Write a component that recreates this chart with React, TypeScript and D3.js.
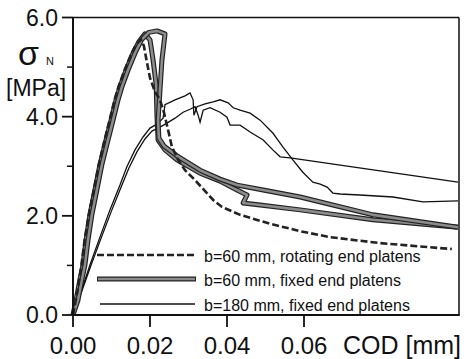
import React from "react";
import * as d3 from "d3";

// ---- data (COD [mm], sigma_N [MPa]) ----
const rotatingB60: [number, number][] = [
  [0, 0], [0.0012, 0.5], [0.0022, 1.01], [0.003, 1.51], [0.0041, 2.02], [0.0054, 2.52],
  [0.0067, 3.03], [0.0082, 3.53], [0.0095, 3.93], [0.0108, 4.34], [0.0118, 4.6], [0.0134, 4.94],
  [0.015, 5.24], [0.0165, 5.47], [0.0177, 5.55], [0.0184, 5.43], [0.0192, 5.1], [0.02, 4.78],
  [0.0213, 4.5], [0.0226, 4.34], [0.0236, 4.09], [0.0247, 3.73], [0.0257, 3.39], [0.0273, 3.13],
  [0.0291, 2.92], [0.0317, 2.72], [0.0343, 2.5], [0.0364, 2.32], [0.0387, 2.18], [0.0434, 2.02],
  [0.0512, 1.84], [0.059, 1.69], [0.0668, 1.57], [0.0797, 1.45], [0.0984, 1.33],
];

const fixedB60a: [number, number][] = [
  [0, 0], [0.0008, 0.3], [0.0018, 0.71], [0.0026, 1.01], [0.0034, 1.51], [0.0044, 2.02],
  [0.0057, 2.52], [0.007, 3.03], [0.0086, 3.53], [0.0099, 3.93], [0.0112, 4.34], [0.0122, 4.6],
  [0.0138, 4.94], [0.0156, 5.28], [0.0171, 5.51], [0.0187, 5.67], [0.02, 5.55], [0.0208, 5.14],
  [0.0216, 4.64], [0.0218, 4.03], [0.0221, 3.53], [0.0239, 3.33], [0.027, 3.13], [0.033, 2.86],
  [0.0382, 2.7], [0.0416, 2.56], [0.0452, 2.42], [0.0442, 2.26], [0.0486, 2.22], [0.059, 2.12],
  [0.0779, 1.92], [0.1, 1.77],
];

const fixedB60b: [number, number][] = [
  [0, 0], [0.0013, 0.3], [0.0023, 0.71], [0.0031, 1.01], [0.0039, 1.51], [0.0049, 2.02],
  [0.0062, 2.52], [0.0075, 3.03], [0.0091, 3.53], [0.0104, 3.93], [0.0117, 4.34], [0.0127, 4.6],
  [0.0143, 4.94], [0.0161, 5.28], [0.0178, 5.55], [0.0197, 5.7], [0.0218, 5.73], [0.0239, 5.67],
  [0.0231, 5.14], [0.0226, 4.54], [0.0221, 3.93], [0.0223, 3.57], [0.0236, 3.41], [0.027, 3.21],
  [0.033, 2.92], [0.0382, 2.74], [0.0426, 2.62], [0.0494, 2.52], [0.059, 2.38], [0.0779, 2.02],
  [0.1, 1.77],
];

const fixedB180a: [number, number][] = [
  [0.0003, 0], [0.0018, 0.4], [0.0044, 1.01], [0.007, 1.57], [0.0096, 2.12], [0.0122, 2.62],
  [0.014, 2.99], [0.0161, 3.33], [0.0182, 3.59], [0.02, 3.77], [0.0218, 3.85], [0.0234, 3.97],
  [0.0239, 4.24], [0.0265, 4.34], [0.0291, 4.42], [0.0304, 4.48], [0.0312, 4.34], [0.0314, 4.03],
  [0.0322, 4.2], [0.0343, 4.26], [0.0364, 4.3], [0.0382, 4.34], [0.0403, 4.28], [0.0416, 4.18],
  [0.0434, 4.13], [0.046, 4.07], [0.0486, 3.93], [0.0519, 3.67], [0.0545, 3.39], [0.0571, 3.13],
  [0.0597, 2.88], [0.0623, 2.68], [0.0642, 2.64], [0.066, 2.58], [0.0675, 2.46], [0.0694, 2.44],
  [0.0745, 2.42], [0.0831, 2.38], [0.0909, 2.28], [0.1, 2.3],
];

const fixedB180b: [number, number][] = [
  [0, 0], [0.0021, 0.44], [0.0047, 1.01], [0.0073, 1.55], [0.0099, 2.08], [0.0125, 2.58],
  [0.0145, 2.96], [0.0166, 3.29], [0.0187, 3.55], [0.0205, 3.71], [0.0226, 3.79], [0.0244, 3.87],
  [0.0265, 3.97], [0.0286, 4.09], [0.0304, 4.15], [0.0317, 4.2], [0.0325, 4.03], [0.033, 3.89],
  [0.0338, 4.13], [0.0356, 4.18], [0.0382, 4.09], [0.04, 3.99], [0.0408, 3.83], [0.0434, 3.83],
  [0.046, 3.69], [0.0494, 3.53], [0.0519, 3.33], [0.0538, 3.19], [0.0564, 3.17], [0.1, 2.68],
];

const xTicks = [0, 0.02, 0.04, 0.06];
const xTickLabels = ["0.00", "0.02", "0.04", "0.06"];
const yMajor = [0, 2, 4, 6];
const yMajorLabels = ["0.0", "2.0", "4.0", "6.0"];
const yMinor = [1, 3, 5];
const legendLabels = [
  "b=60 mm, rotating end platens",
  "b=60 mm, fixed end platens",
  "b=180 mm, fixed end platens",
];

const FONT = "Arial, 'Liberation Sans', Helvetica, sans-serif";

export default function App() {
  const L = 73, R = 459, T = 17.5, B = 315;
  const x = d3.scaleLinear().domain([0, 0.1]).range([L, 458]);
  const y = d3.scaleLinear().domain([0, 6]).range([B, T]);
  const line = d3.line<[number, number]>().x((d) => x(d[0])).y((d) => y(d[1]));

  const outline = (data: [number, number][], key: string) => (
    <path key={key} d={line(data) || ""} fill="none" stroke="#222" strokeWidth={5} strokeLinejoin="round" />
  );
  const inner = (data: [number, number][], key: string) => (
    <path key={key} d={line(data) || ""} fill="none" stroke="#8c8c8c" strokeWidth={2.6} strokeLinejoin="round" />
  );

  const legY = [255, 279, 304];
  const legX1 = 97, legX2 = 196, legTextX = 204;

  return (
    <svg width={472} height={359} style={{ position: "absolute", left: 0, top: 0, background: "#fff" }}>
      <rect x={0} y={0} width={472} height={359} fill="#fff" />
      {/* curves */}
      <path d={line(fixedB180a) || ""} fill="none" stroke="#111" strokeWidth={1.3} />
      <path d={line(fixedB180b) || ""} fill="none" stroke="#111" strokeWidth={1.3} />
      {outline(fixedB60a, "oa")}
      {inner(fixedB60a, "ia")}
      {outline(fixedB60b, "ob")}
      {inner(fixedB60b, "ib")}
      <path d={line(rotatingB60) || ""} fill="none" stroke="#222" strokeWidth={2.6} strokeDasharray="7 3" />

      {/* frame */}
      <line x1={L} y1={T} x2={R} y2={T} stroke="#111" strokeWidth={1.5} />
      <line x1={R} y1={T} x2={R} y2={B} stroke="#111" strokeWidth={1.5} />
      <line x1={L} y1={T - 0.5} x2={L} y2={B + 1} stroke="#111" strokeWidth={2} />
      <line x1={L - 1} y1={B} x2={R + 0.75} y2={B} stroke="#111" strokeWidth={2} />

      {/* y ticks */}
      {yMajor.map((v, i) => (
        <g key={"ym" + v}>
          <line x1={62} x2={L} y1={y(v)} y2={y(v)} stroke="#111" strokeWidth={1.8} />
          <text x={58} y={y(v) + 8} textAnchor="end" fontFamily={FONT} fontSize={23} fill="#111">
            {yMajorLabels[i]}
          </text>
        </g>
      ))}
      {yMinor.map((v) => (
        <line key={"yn" + v} x1={67} x2={L} y1={y(v)} y2={y(v)} stroke="#111" strokeWidth={1.5} />
      ))}

      {/* x ticks */}
      {xTicks.map((v, i) => (
        <g key={"xt" + v}>
          <line x1={x(v)} x2={x(v)} y1={B} y2={327} stroke="#111" strokeWidth={1.8} />
          <text x={x(v)} y={354} textAnchor="middle" fontFamily={FONT} fontSize={24} fill="#111">
            {xTickLabels[i]}
          </text>
        </g>
      ))}
      <text x={343} y={354} fontFamily={FONT} fontSize={25} fill="#111">COD [mm]</text>

      {/* y label */}
      <text x={18} y={65} fontFamily={FONT} fontSize={34} fill="#111">σ</text>
      <text x={46} y={65} fontFamily={FONT} fontSize={11} fill="#111">N</text>
      <text x={6} y={96} fontFamily={FONT} fontSize={23} fill="#111">[MPa]</text>

      {/* legend */}
      <line x1={legX1} x2={legX2} y1={legY[0]} y2={legY[0]} stroke="#222" strokeWidth={2.6} strokeDasharray="7 3" />
      <line x1={legX1} x2={legX2} y1={legY[1]} y2={legY[1]} stroke="#222" strokeWidth={5} />
      <line x1={legX1 + 1} x2={legX2 - 1} y1={legY[1]} y2={legY[1]} stroke="#8c8c8c" strokeWidth={2.6} />
      <line x1={legX1 + 3} x2={legX2 - 1} y1={legY[2]} y2={legY[2]} stroke="#111" strokeWidth={1.3} />
      {legendLabels.map((t, i) => (
        <text key={t} x={legTextX} y={legY[i] + 7} fontFamily={FONT} fontSize={16} fill="#111">
          {t}
        </text>
      ))}
    </svg>
  );
}
